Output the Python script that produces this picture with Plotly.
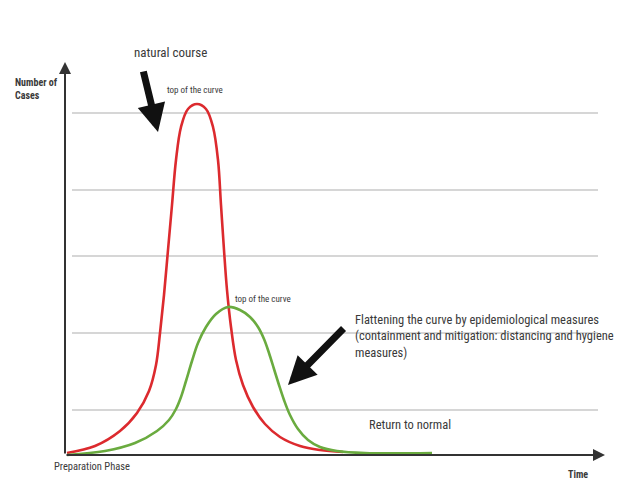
import plotly.graph_objects as go

# Time (x) and number of cases (y)
red_t = [2, 30, 55, 72, 84, 91, 95, 99, 103, 107, 111, 116, 123, 132,
         141, 148, 153, 156, 159, 162, 166, 171, 178, 188, 200, 215, 235, 255, 278]
red_cases = [2, 9, 24, 42, 64, 90, 122, 160, 205, 250, 295, 328, 346, 351,
             346, 328, 295, 250, 205, 165, 128, 95, 70, 48, 31, 18, 9, 5, 3]

green_t = [2, 40, 70, 92, 104, 111, 116, 121, 127, 133, 141, 151, 163,
           175, 185, 193, 199, 204, 209, 214, 219, 225, 233, 243, 255, 272, 300, 367]
green_cases = [0, 4, 12, 24, 35, 46, 58, 74, 94, 112, 128, 141, 148,
               145, 138, 128, 116, 102, 86, 70, 55, 40, 26, 15, 8, 4, 2, 2]

grid_levels = [45, 122, 199, 265, 342]

FONT = "Liberation Sans Narrow, Roboto Condensed, Arial Narrow, Liberation Sans, sans-serif"
TXT = "#3a3a3a"

fig = go.Figure()

for lv in grid_levels:
    fig.add_shape(type="line", xref="x", yref="y", x0=7, x1=533, y0=lv, y1=lv,
                  line=dict(color="#d6d6d6", width=2), layer="below")

fig.add_trace(go.Scatter(x=red_t, y=red_cases, mode="lines",
                         line=dict(color="#dc2a2e", width=2.6, shape="spline", smoothing=1.0),
                         hoverinfo="skip", showlegend=False))
fig.add_trace(go.Scatter(x=green_t, y=green_cases, mode="lines",
                         line=dict(color="#6aab3f", width=2.6, shape="spline", smoothing=1.0),
                         hoverinfo="skip", showlegend=False))

# axes with arrows
fig.add_annotation(x=540, y=0, ax=0, ay=0, axref="x", ayref="y", xref="x", yref="y",
                   showarrow=True, arrowhead=2, arrowsize=1.2, arrowwidth=2, arrowcolor="#333333", text="")
fig.add_annotation(x=0, y=393, ax=0, ay=0, axref="x", ayref="y", xref="x", yref="y",
                   showarrow=True, arrowhead=2, arrowsize=1.2, arrowwidth=2, arrowcolor="#333333", text="")

# thick black arrows
fig.add_annotation(x=93, y=323, ax=-15, ay=-62, xref="x", yref="y",
                   showarrow=True, arrowhead=2, arrowsize=0.8, arrowwidth=7, arrowcolor="#111111", text="")
fig.add_annotation(x=223, y=70, ax=57, ay=-58, xref="x", yref="y",
                   showarrow=True, arrowhead=2, arrowsize=0.8, arrowwidth=7, arrowcolor="#111111", text="")

def txt(text, x, y, size, xanchor="left", bold=False, align="left"):
    fig.add_annotation(x=x, y=y, xref="x", yref="y", text=f"<b>{text}</b>" if bold else text,
                       showarrow=False, xanchor=xanchor, yanchor="middle", align=align,
                       font=dict(family=FONT, size=size, color=TXT))

txt("natural course", 105, 403, 13, xanchor="center")
txt("Number of<br>Cases", -52, 366, 10, bold=True)
txt("top of the curve", 130, 365, 9, xanchor="center")
txt("top of the curve", 198, 156, 9, xanchor="center")
txt("Flattening the curve by epidemiological measures<br>(containment and mitigation: distancing and hygiene<br>measures)",
    288, 119, 12.5)
txt("Return to normal", 302, 31, 12.5)
txt("Preparation Phase", -13, -11, 10.5)
txt("Time", 501, -19, 10, bold=True)

fig.update_layout(
    width=620, height=481, autosize=False,
    margin=dict(l=0, r=0, t=0, b=0),
    paper_bgcolor="white", plot_bgcolor="white",
    xaxis=dict(range=[-65, 555], visible=False, fixedrange=True),
    yaxis=dict(range=[-26, 455], visible=False, fixedrange=True),
    showlegend=False,
)

fig.write_html("out.html", config={"displayModeBar": False},
               post_script="document.body.style.margin='0';document.body.style.overflow='hidden';")
